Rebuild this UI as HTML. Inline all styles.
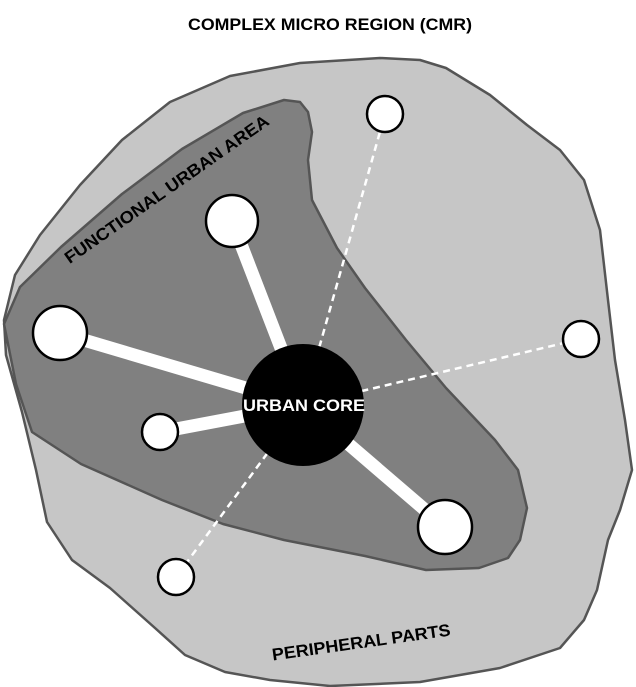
<!DOCTYPE html>
<html><head><style>body{margin:0;background:#fff}svg{display:block}</style></head><body>
<svg width="636" height="687" viewBox="0 0 636 687" xmlns="http://www.w3.org/2000/svg" font-family="Liberation Sans, sans-serif" font-weight="bold">
<polygon points="4,320 15,275 40,235 80,185 122,140 170,102 230,76 300,63 380,58 420,60 446,68 490,95 527,125 560,150 584,180 600,230 608,300 615,360 625,420 632,470 620,510 608,540 597,590 584,620 560,648 500,668 420,682 330,686 270,680 225,672 185,655 155,628 110,588 72,560 47,522 36,470 22,412 6,355" fill="#c6c6c6" stroke="#555" stroke-width="2.5" stroke-linejoin="round"/>
<polygon points="4,324 20,287 61,247 122,194 182,149 243,113 284,100 300,102 308,112 312,132 308,160 312,200 337,248 365,288 406,340 446,388 495,440 518,470 527,508 520,540 508,558 479,568 426,570 365,556 284,540 223,524 162,500 81,464 32,432 16,384" fill="#808080" stroke="#555" stroke-width="2.5" stroke-linejoin="round"/>
<g stroke="#fff" stroke-width="2.5" stroke-dasharray="7,5" fill="none">
<line x1="303" y1="405" x2="385" y2="114"/>
<line x1="303" y1="405" x2="581" y2="339"/>
<line x1="303" y1="405" x2="176" y2="577"/>
</g>
<g stroke="#fff" stroke-width="13" fill="none">
<line x1="303" y1="405" x2="232" y2="221"/>
<line x1="303" y1="405" x2="60" y2="333"/>
<line x1="303" y1="405" x2="160" y2="432"/>
<line x1="303" y1="405" x2="445" y2="527"/>
</g>
<g fill="#fff" stroke="#000" stroke-width="2.5">
<circle cx="232" cy="221" r="26"/>
<circle cx="60" cy="333" r="27"/>
<circle cx="160" cy="432" r="18"/>
<circle cx="445" cy="527" r="27"/>
<circle cx="385" cy="114" r="18"/>
<circle cx="581" cy="339" r="18"/>
<circle cx="176" cy="577" r="18"/>
</g>
<circle cx="303" cy="405" r="61" fill="#000"/>
<text x="304" y="411" font-size="17" fill="#fff" text-anchor="middle" textLength="122" lengthAdjust="spacingAndGlyphs">URBAN CORE</text>
<text x="330" y="30" font-size="17" text-anchor="middle" textLength="284" lengthAdjust="spacingAndGlyphs">COMPLEX MICRO REGION (CMR)</text>
<text transform="translate(170,194) rotate(-35)" font-size="17" text-anchor="middle" textLength="245" lengthAdjust="spacingAndGlyphs">FUNCTIONAL URBAN AREA</text>
<text transform="translate(362,648) rotate(-8)" font-size="17" text-anchor="middle" textLength="180" lengthAdjust="spacingAndGlyphs">PERIPHERAL PARTS</text>
</svg>
</body></html>
